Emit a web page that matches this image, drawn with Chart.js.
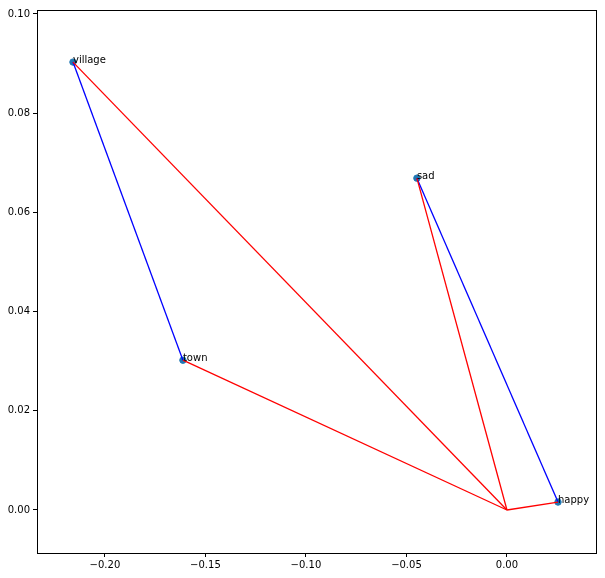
<!DOCTYPE html>
<html>
<head>
<meta charset="utf-8">
<script src="https://cdn.jsdelivr.net/npm/chart.js@4/dist/chart.umd.min.js"></script>
<style>
	html, body { margin: 0; padding: 0; background: #fff; }
	#wrap { width: 605px; height: 578px; }
</style>
</head>
<body>
<div id="wrap"><canvas id="chart" width="605" height="578"></canvas></div>
<script>
// word vectors (2d projection)
var words = ["village", "town", "sad", "happy"];
var xVals = [-0.2159, -0.1612, -0.0448, 0.0254];
var yVals = [0.0903, 0.0302, 0.0669, 0.0016];
// blue links between word pairs, by index
var pairs = [[0, 1], [2, 3]];
var origin = [0, 0];
var xTicks = [-0.20, -0.15, -0.10, -0.05, 0.00];
var yTicks = [0.00, 0.02, 0.04, 0.06, 0.08, 0.10];

var fontFam = "'DejaVu Sans', sans-serif";

function fmt(v) {
	var s = Math.abs(v).toFixed(2);
	return (v < -1e-9 ? "\u2212" : "") + s;
}

var datasets = [];
datasets.push({
	label: "words",
	data: words.map(function (w, i) { return {x: xVals[i], y: yVals[i]}; }),
	backgroundColor: "#1f77b4",
	borderColor: "#1f77b4",
	pointRadius: 3.2,
	showLine: false,
	order: 3
});
pairs.forEach(function (p) {
	datasets.push({
		label: "pair",
		data: [{x: xVals[p[0]], y: yVals[p[0]]}, {x: xVals[p[1]], y: yVals[p[1]]}],
		borderColor: "#0000ff",
		borderWidth: 1.3,
		pointRadius: 0,
		showLine: true,
		order: 2
	});
});
words.forEach(function (w, i) {
	datasets.push({
		label: "origin",
		data: [{x: origin[0], y: origin[1]}, {x: xVals[i], y: yVals[i]}],
		borderColor: "#ff0000",
		borderWidth: 1.3,
		pointRadius: 0,
		showLine: true,
		order: 1
	});
});

var wordLabels = {
	id: "wordLabels",
	afterDatasetsDraw: function (chart) {
		var ctx = chart.ctx;
		var xs = chart.scales.x, ys = chart.scales.y;
		ctx.save();
		ctx.font = "10px " + fontFam;
		ctx.fillStyle = "#000";
		ctx.textAlign = "left";
		ctx.textBaseline = "alphabetic";
		words.forEach(function (w, i) {
			ctx.fillText(w, xs.getPixelForValue(xVals[i]), ys.getPixelForValue(yVals[i]) + 1);
		});
		ctx.restore();
	}
};

var frame = {
	id: "frame",
	afterDraw: function (chart) {
		var a = chart.chartArea, ctx = chart.ctx;
		ctx.save();
		ctx.strokeStyle = "#000";
		ctx.lineWidth = 1;
		ctx.strokeRect(Math.round(a.left) + 0.5, Math.round(a.top) + 0.5, Math.round(a.right - a.left), Math.round(a.bottom - a.top));
		ctx.restore();
	}
};

new Chart(document.getElementById("chart"), {
	type: "scatter",
	data: {datasets: datasets},
	options: {
		responsive: false,
		animation: false,
		layout: {padding: {top: 10, right: 9, left: 0, bottom: 0}},
		plugins: {legend: {display: false}, tooltip: {enabled: false}},
		scales: {
			x: {
				min: -0.2338, max: 0.0443,
				afterFit: function (s) { s.height = 25; },
				afterBuildTicks: function (s) { s.ticks = xTicks.map(function (v) { return {value: v}; }); },
				grid: {drawOnChartArea: false, tickLength: 4, color: "#000"},
				border: {display: true, color: "#000"},
				ticks: {color: "#000", padding: 2, maxRotation: 0, font: {size: 10, family: fontFam}, callback: function (v) { return fmt(v); }}
			},
			y: {
				min: -0.00867, max: 0.1008,
				afterFit: function (s) { s.width = 37; },
				afterBuildTicks: function (s) { s.ticks = yTicks.map(function (v) { return {value: v}; }); },
				grid: {drawOnChartArea: false, tickLength: 4, color: "#000"},
				border: {display: true, color: "#000"},
				ticks: {color: "#000", padding: 3, font: {size: 10, family: fontFam}, callback: function (v) { return fmt(v); }}
			}
		}
	},
	plugins: [wordLabels, frame]
});
</script>
</body>
</html>
